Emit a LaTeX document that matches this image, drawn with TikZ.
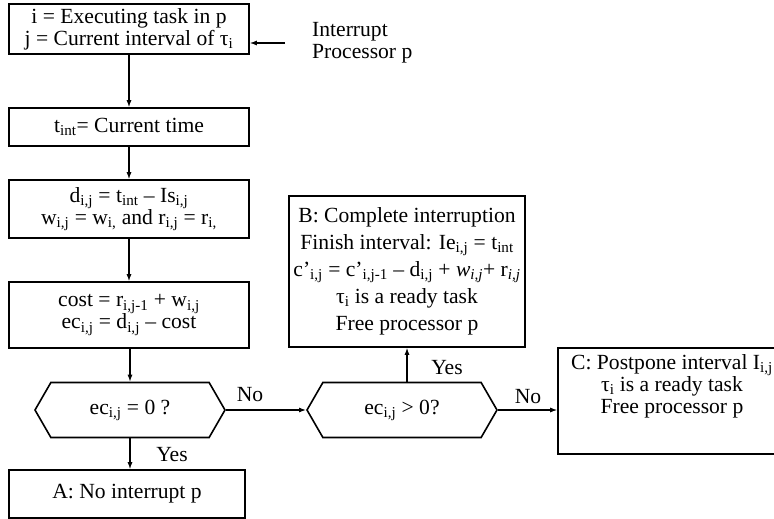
\documentclass[tikz,border=0pt]{standalone}
\usepackage{fontspec}
\setmainfont{Liberation Serif}
\usetikzlibrary{arrows.meta,shapes.symbols}
\newcommand{\sbs}[1]{\textsubscript{#1}}

\begin{document}
\begin{tikzpicture}[
  x=1pt,
  y=-1pt,
  font=\fontsize{21.6}{22}\selectfont,
  procbox/.style={draw,line width=1.6pt,align=center,inner sep=0pt,minimum width=240pt},
  decision/.style={draw,line width=1.6pt,signal,signal to=east and west,
    signal pointer angle=120,minimum width=190pt,minimum height=55pt,inner sep=0pt},
  flow/.style={line width=1.2pt,-{Latex[length=7pt,width=5pt]}},
  tag/.style={inner sep=0pt,align=center}
]
  \useasboundingbox (0,0) rectangle (774,519);
  \clip (0,0) rectangle (774,519);

  % Main column.
  \node[procbox,minimum height=50pt] (interrupt) at (129,29)
    {i = Executing task in p\\ j = Current interval of τ\sbs{i}};
  \node[procbox,minimum height=38pt] (time) at (129,127)
    {t\sbs{int}= Current time};
  \node[procbox,minimum height=58pt] (delay) at (129,209)
    {d\sbs{i,j} = t\sbs{int} – Is\sbs{i,j}\\ w\sbs{i,j} = w\sbs{i,} and r\sbs{i,j} = r\sbs{i,}};
  \node[procbox,minimum height=66pt] (cost) at (129,315)
    {cost = r\sbs{i,j-1} + w\sbs{i,j}\\ ec\sbs{i,j} = d\sbs{i,j} – cost};
  \node[decision] (zero) at (130,410) {ec\sbs{i,j} = 0 ?};
  \node[procbox,minimum width=236pt,minimum height=48pt] (noint) at (127,494)
    {A: No interrupt p};

  % Right branch.
  \node[decision] (positive) at (402,410) {ec\sbs{i,j} > 0?};
  \node[procbox,minimum width=236pt,minimum height=151pt,
        font=\fontsize{21.6}{27}\selectfont] (complete) at (407,271.5)
    {B: Complete interruption\\
     Finish interval: Ie\sbs{i,j} = t\sbs{int}\\
     c’\sbs{i,j} = c’\sbs{i,j-1} – d\sbs{i,j} + \textit{w\sbs{i,j}}+ r\sbs{\textit{i,j}}\\
     τ\sbs{i} is a ready task\\
     Free processor p};
  \node[procbox,minimum width=228pt,minimum height=106pt] (postpone) at (672,401) {};
  \node[tag] (postponetext) at (672,386)
    {C: Postpone interval I\sbs{i,j}\\ τ\sbs{i} is a ready task\\ Free processor p};

  % External trigger.
  \node[tag,align=left,anchor=west] (source) at (312,43) {Interrupt\\ Processor p};

  % Connectors.
  \draw[flow] ([xshift=-27pt]source.west) -- (interrupt.east |- source.west);
  \draw[flow] (interrupt) -- (time);
  \draw[flow] (time) -- (delay);
  \draw[flow] (delay) -- (cost);
  \draw[flow] (cost.south -| zero.north) -- (zero.north);
  \draw[flow] (zero.south) -- (zero.south |- noint.north);
  \draw[flow] (zero.east) -- (positive.west);
  \draw[flow] (complete.south |- positive.north) -- (complete.south);
  \draw[flow] (positive.east) -- (postpone.west |- positive.east);

  % Branch labels.
  \node[tag] (yeszero) at (172,455) {Yes};
  \node[tag] (nozero) at (250,395) {No};
  \node[tag] (yespos) at (447,368) {Yes};
  \node[tag] (nopos) at (528,397) {No};
\end{tikzpicture}
\end{document}
